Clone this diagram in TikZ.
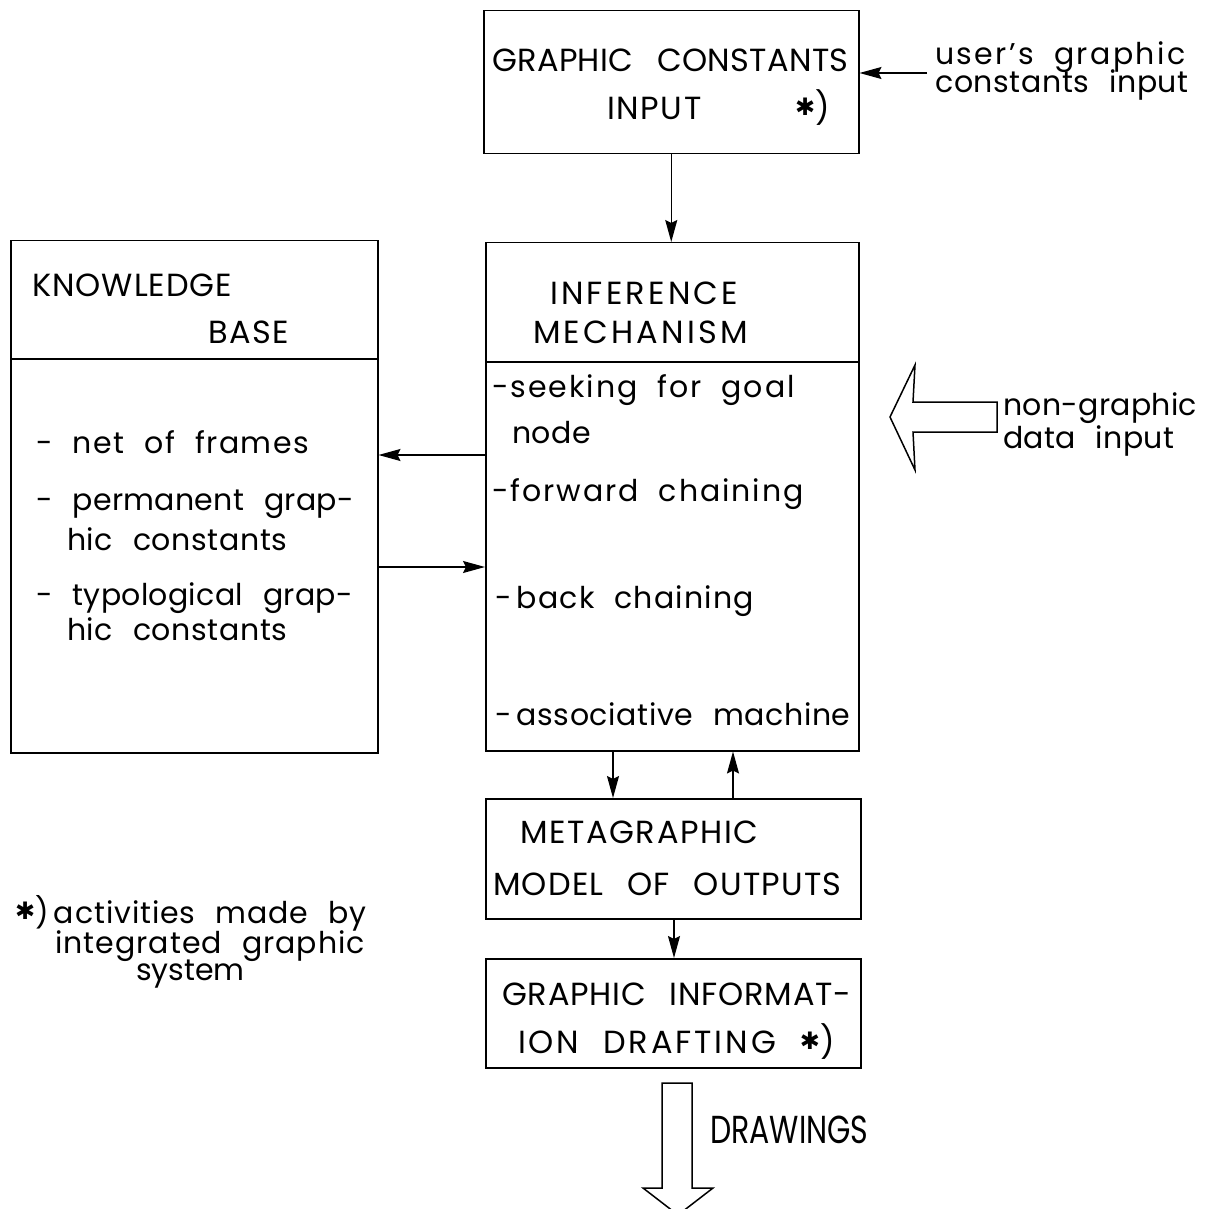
\documentclass[tikz,border=0pt]{standalone}
\usepackage{fontspec}
\setmainfont{Poppins}
\newfontfamily\symf{DejaVu Sans}
\usepackage{graphicx}
\usepackage{tikz}
\usetikzlibrary{positioning, arrows.meta}

\newcommand{\starmark}{\raisebox{4pt}{\symf\fontsize{24}{24}\selectfont ✱}}
\newcommand{\capsfont}[1]{\fontsize{32}{32}\selectfont\addfontfeature{LetterSpace=#1}\spaceskip 24pt\relax}
\newcommand{\lowfont}[1]{\fontsize{30}{30}\selectfont\addfontfeature{LetterSpace=#1}\spaceskip 20pt\relax}

\tikzset{
  box/.style={draw, line width=1.5pt, inner sep=0pt, anchor=north west},
  caps/.style={anchor=base west, inner sep=0pt, font={\capsfont{#1}}},
  caps/.default=5,
  lower/.style={anchor=base west, inner sep=0pt, font={\lowfont{#1}}},
  lower/.default=2,
  link/.style={line width=1.5pt, -{Stealth[length=22pt,width=12pt,inset=3pt]}},
  fat/.style={line width=1.5pt, line join=miter}
}

\begin{document}
\begin{tikzpicture}[x=1pt, y=-1pt]
  \useasboundingbox (0,0) rectangle (1216,1209);

  % the five boxes
  \node[box, minimum width=375pt, minimum height=143pt] (gci) at (483,10) {};
  \node[box, minimum width=367pt, minimum height=512pt] (kb) at (10,240) {};
  \node[box, minimum width=373pt, minimum height=508pt] (infer) at (485,242) {};
  \node[box, minimum width=375pt, minimum height=120pt] (meta) at (485,798) {};
  \node[box, minimum width=375pt, minimum height=109pt] (gid) at (485,958) {};

  % header lines
  \draw[line width=1.5pt] (kb.west |- 0,359) -- (kb.east |- 0,359);
  \draw[line width=1.5pt] (infer.west |- 0,362) -- (infer.east |- 0,362);

  % texts in the boxes
  \node[caps=1] (gci1) at (492,72) {GRAPHIC CONSTANTS};
  \node[caps] (gci2) at (607,120) {INPUT};
  \node[caps=0] (gci3) at (795,120) {\starmark)};

  \node[caps=3] (kb1) at (32,297) {KNOWLEDGE};
  \node[caps] (kb2) at (208,343) {BASE};
  \node[lower=5] (kb3) at (36,453) {-\ net of frames};
  \node[lower=1] (kb4) at (36,510) {-\ permanent grap-};
  \node[lower=2] (kb5) at (67,550) {hic constants};
  \node[lower=1] (kb6) at (36,605) {-\ typological grap-};
  \node[lower=2] (kb7) at (67,640) {hic constants};

  \node[caps=10] (in1) at (550,305) {INFERENCE};
  \node[caps=10] (in2) at (533,343) {MECHANISM};
  \node[lower=6.5] (in3) at (492,397) {-seeking for goal};
  \node[lower=2] (in4) at (512,443) {node};
  \node[lower=6.5] (in5) at (492,501) {-forward chaining};
  \node[lower=4] (in6) at (495,608) {-\,back chaining};
  \node[lower=2] (in7) at (495,725) {-\,associative machine};

  \node[caps=5] (me1) at (520,843) {METAGRAPHIC};
  \node[caps=3.7] (me2) at (493,895) {MODEL OF OUTPUTS};

  \node[caps=2.4] (gd1) at (502,1005) {GRAPHIC INFORMAT-};
  \node[caps=9] (gd2) at (518,1053) {ION DRAFTING \starmark)};

  % outside texts
  \node[lower=8] (usr1) at (935,65) {user's graphic};
  \node[lower=2] (usr2) at (935,93) {constants input};
  \node[lower=1] (ngd1) at (1003,415) {non-graphic};
  \node[lower=1] (ngd2) at (1003,448) {data input};
  \node[lower=3] (note1) at (15,923) {\starmark)\,activities made by};
  \node[lower=3.4] (note2) at (55,953) {integrated graphic};
  \node[lower=0] (note3) at (136,980) {system};
  \node[anchor=base west, inner sep=0pt, font=\fontsize{30}{30}\selectfont] (drw) at (710,1143) {\scalebox{1}[1.3]{DRAWINGS}};

  % connectors
  \coordinate (usrin) at (927,73);
  \draw[link] (usrin) -- (gci.east |- usrin);
  \draw[link] (gci.south) -- (gci.south |- infer.north);
  \draw[link] (infer.west |- 0,455) -- (kb.east |- 0,455);
  \draw[link] (kb.east |- 0,567) -- (infer.west |- 0,567);
  \draw[link] (infer.south -| 613,0) -- (meta.north -| 613,0);
  \draw[link] (meta.north -| 733,0) -- (infer.south -| 733,0);
  \draw[link] (meta.south -| 674,0) -- (gid.north -| 674,0);

  % hollow arrows
  \draw[fat] (997,402) -- (913,402) -- (915,365) -- (890,417) -- (915,470)
    -- (913,432) -- (997,432) -- cycle;
  \draw[fat] (662,1083) -- (662,1188) -- (643,1188) -- (678,1215) -- (713,1188)
    -- (692,1188) -- (692,1083) -- cycle;
\end{tikzpicture}
\end{document}
